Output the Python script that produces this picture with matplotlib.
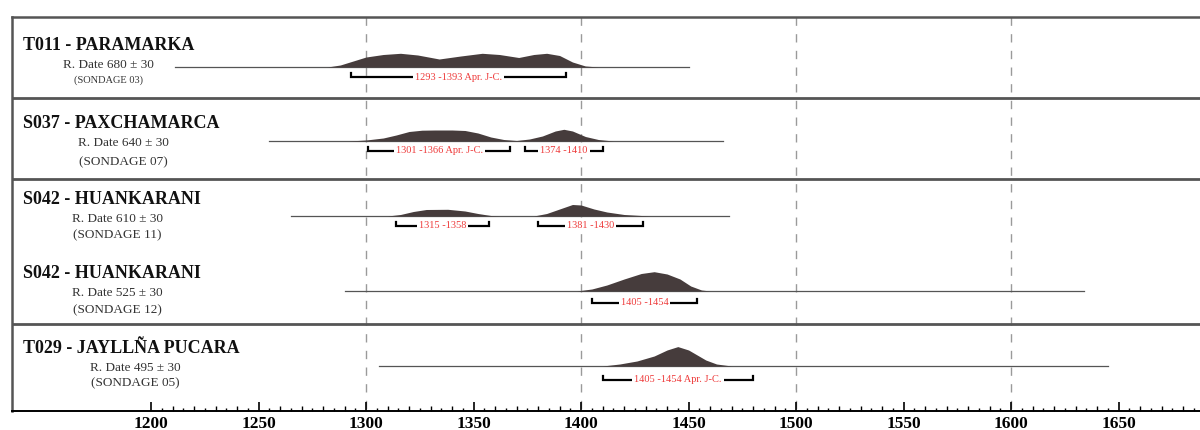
import matplotlib.pyplot as plt

plt.rcParams["font.family"] = ["Liberation Serif", "DejaVu Serif"]

# site labels
sites = ["T011 - PARAMARKA", "S037 - PAXCHAMARCA", "S042 - HUANKARANI",
         "S042 - HUANKARANI", "T029 - JAYLLÑA PUCARA"]
dates = ["R. Date 680 ± 30", "R. Date 640 ± 30", "R. Date 610 ± 30",
         "R. Date 525 ± 30", "R. Date 495 ± 30"]
sondages = ["(SONDAGE 03)", "(SONDAGE 07)", "(SONDAGE 11)",
            "(SONDAGE 12)", "(SONDAGE 05)"]

# extent of the thin baseline of each row (years)
line_start = [1211, 1255, 1265, 1290, 1306]
line_end = [1450, 1466, 1469, 1634, 1645]

# probability curves (year, relative height)
curve_years = [
    [1282, 1288, 1294, 1300, 1308, 1316, 1324, 1334, 1344, 1354, 1362, 1371,
     1378, 1384, 1390, 1396, 1402, 1408],
    [1292, 1300, 1308, 1314, 1320, 1326, 1332, 1340, 1346, 1352, 1358, 1364,
     1370, 1376, 1382, 1388, 1392, 1396, 1402, 1408, 1415],
    [1310, 1316, 1322, 1328, 1338, 1346, 1352, 1358, 1362, 1378, 1384, 1390,
     1396, 1400, 1406, 1412, 1420, 1432],
    [1398, 1405, 1412, 1420, 1428, 1434, 1440, 1446, 1451, 1456, 1460],
    [1410, 1418, 1426, 1434, 1440, 1445, 1450, 1454, 1458, 1463, 1470],
]
curve_heights = [
    [0, 2, 6, 10, 12.5, 13.7, 12, 8, 11, 13.7, 12.5, 9.5, 12.5, 13.7, 11.5, 5, 1, 0],
    [0, 1, 3, 6, 9.5, 10.8, 11, 11, 10.5, 8, 4, 1.5, 0.5, 2, 5, 10, 11.7, 10,
     4.5, 1.5, 0],
    [0, 1.5, 4.5, 6.5, 6.7, 5, 2.5, 0.5, 0, 0, 2.5, 7, 11.5, 11, 7, 4, 1.5, 0],
    [0, 2, 6, 12, 17.5, 19.3, 17, 12, 5, 1, 0],
    [0, 2, 5, 10, 16, 19.4, 16, 11, 6, 2, 0],
]

# calibrated ranges (row index, start, end, label)
range_rows = [0, 1, 1, 2, 2, 3, 4]
range_start = [1293, 1301, 1374, 1314, 1380, 1405, 1410]
range_end = [1393, 1367, 1410, 1357, 1429, 1454, 1480]
range_labels = ["1293 -1393 Apr. J-C.", "1301 -1366 Apr. J-C.", "1374 -1410",
                "1315 -1358", "1381 -1430", "1405 -1454", "1405 -1454 Apr. J-C."]

W, H = 1200, 431
baselines = [68, 142, 217, 292, 367]
bracket_y = [78, 152, 227, 304, 381]
separators = [99, 180, 325]
title_pos = [(23, 45), (23, 124), (23, 200), (23, 274), (23, 349)]
sub_pos = [(108, 65, 80), (123, 143, 162), (117, 219, 235),
           (117, 293, 310), (135, 368, 383)]

fig = plt.figure(figsize=(12, 4.31), dpi=100)
ax = fig.add_axes([12 / W, (H - 412) / H, 1188 / W, (412 - 18) / H])
ax.set_xlim(1135.3, 1687.9)
ax.set_ylim(412, 18)

for side in ["top", "left"]:
    ax.spines[side].set_color("#555555")
    ax.spines[side].set_linewidth(1.8)
ax.spines["right"].set_visible(False)
ax.spines["bottom"].set_linewidth(1.4)
ax.set_yticks([])

ax.set_xticks(range(1200, 1700, 50))
ax.set_xticks(range(1205, 1690, 10), minor=True)
ax.tick_params(axis="x", which="major", direction="in", length=6.5, width=1.2,
               pad=3, labelsize=12.5)
ax.tick_params(axis="x", which="minor", direction="in", length=2.2, width=1)
for lab in ax.get_xticklabels():
    lab.set_fontweight("bold")
# ten-year ticks, a little longer than the five-year ones
tens = [y for y in range(1210, 1690, 10) if y % 50]
ax.vlines(tens, 0, 0.0127, transform=ax.get_xaxis_transform(), colors="black",
          lw=1, clip_on=False)

ax.vlines([1300, 1400, 1500, 1600], 18, 412, colors="#9a9a9a",
          linestyles=(0, (6, 6)), lw=1, zorder=1)
for y in separators:
    ax.axhline(y, color="#555555", lw=2, zorder=3)

for i in range(len(sites)):
    b = baselines[i]
    ax.plot([line_start[i], line_end[i]], [b, b], color="#555555", lw=0.9, zorder=2)
    ax.fill_between(curve_years[i], [b - h for h in curve_heights[i]], b,
                    color="#463c3c", lw=0, zorder=2)

for r, x0, x1, lab in zip(range_rows, range_start, range_end, range_labels):
    y = bracket_y[r]
    ax.plot([x0, x0, x1, x1], [y - 4, y, y, y - 4], color="black", lw=1.6,
            zorder=4, solid_joinstyle="miter")
    ax.text((x0 + x1) / 2, y - 1, lab, ha="center", va="center", fontsize=7.5,
            color="#ee3a3a", zorder=5,
            bbox=dict(facecolor="white", edgecolor="none", pad=1.5))

for i in range(len(sites)):
    tx, ty = title_pos[i]
    fig.text(tx / W, 1 - ty / H, sites[i], ha="left", va="center",
             fontsize=13, fontweight="bold", color="#111111")
    sx, dy, sy = sub_pos[i]
    fig.text(sx / W, 1 - dy / H, dates[i], ha="center", va="center",
             fontsize=9.5, color="#333333")
    fig.text(sx / W, 1 - sy / H, sondages[i], ha="center", va="center",
             fontsize=7.5 if i == 0 else 9.5, color="#333333")

fig.savefig("out.png", dpi=100)
